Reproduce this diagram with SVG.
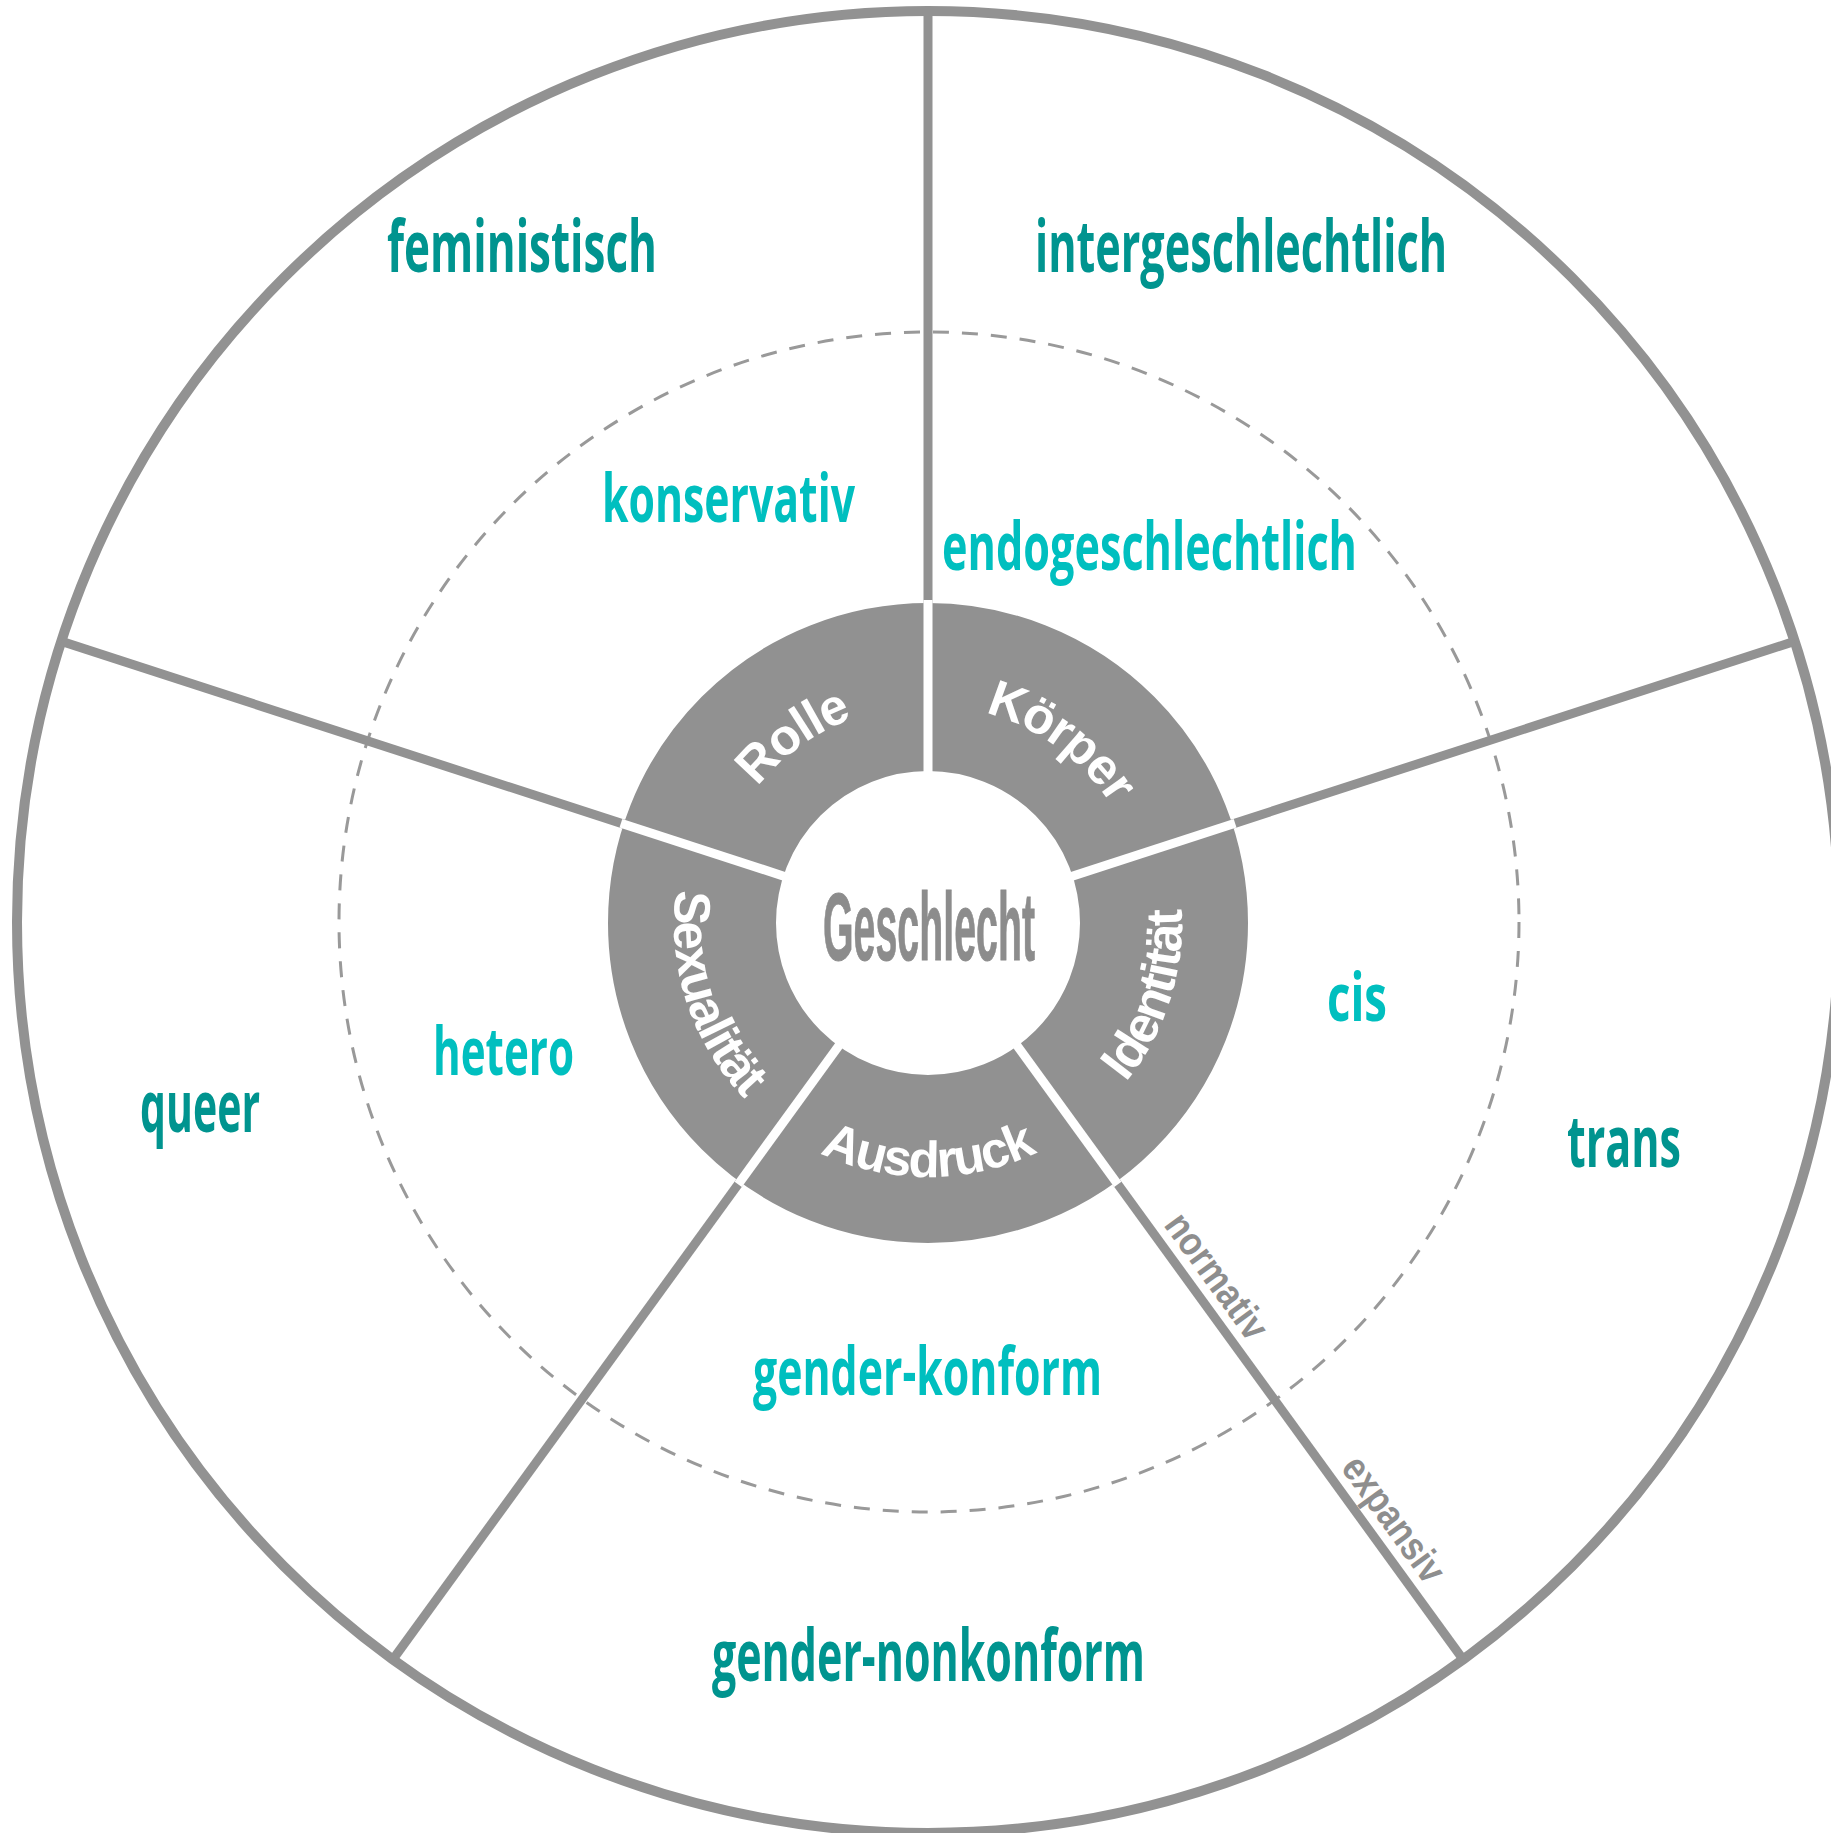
<svg xmlns="http://www.w3.org/2000/svg" width="1831" height="1833" viewBox="0 0 1831 1833">
<style>
.ln{stroke:#929292;stroke-width:9;fill:none}
.gap{stroke:#ffffff;stroke-width:9;fill:none}
.outer{font-family:"Open Sans","Liberation Sans",sans-serif;font-weight:700;fill:#00948f;font-size:72px}
.inner{font-family:"Open Sans","Liberation Sans",sans-serif;font-weight:700;fill:#00bfbf;font-size:66px}
.ring{font-family:"Liberation Sans",Arial,sans-serif;font-weight:bold;fill:#ffffff;font-size:51px;letter-spacing:-1.5px}
.side{font-family:"Liberation Sans",Arial,sans-serif;font-weight:bold;fill:#8e8e8e;font-size:40px}
</style>
<defs>
<path id="pRolle" d="M 710 923 A 218 218 0 0 1 995.4 715.7"/>
<path id="pKoerper" d="M 860.6 715.7 A 218 218 0 0 1 1146 923"/>
<path id="pIdent" d="M 1006.5 1164.6 A 254 254 0 0 0 1133.5 773.7"/>
<path id="pAus" d="M 722.5 1072.3 A 254 254 0 0 0 1133.5 1072.3"/>
<path id="pSex" d="M 722.5 773.7 A 254 254 0 0 0 849.5 1164.6"/>
</defs>
<rect width="1831" height="1833" fill="#ffffff"/>
<g id="outer-circle"><circle cx="928" cy="922" r="911" fill="none" stroke="#929292" stroke-width="10"/></g>
<g id="dashed-circle"><circle cx="929" cy="922" r="590" fill="none" stroke="#999999" stroke-width="3" stroke-dasharray="16 13"/></g>
<g id="connectors">
<line class="ln" x1="928" y1="604" x2="928" y2="12"/>
<line class="ln" x1="1232.3" y1="824.1" x2="1794.4" y2="641.4"/>
<line class="ln" x1="1116.1" y1="1181.9" x2="1463.5" y2="1660"/>
<line class="ln" x1="739.9" y1="1181.9" x2="392.5" y2="1660"/>
<line class="ln" x1="623.7" y1="824.1" x2="61.6" y2="641.4"/>
</g>
<g id="ring">
<circle cx="928" cy="923" r="236" fill="none" stroke="#919191" stroke-width="168"/>
<line class="gap" x1="928" y1="775" x2="928" y2="600"/>
<line class="gap" x1="1070.6" y1="876.7" x2="1235.1" y2="823.2"/>
<line class="gap" x1="1016.2" y1="1044.4" x2="1117.8" y2="1184.3"/>
<line class="gap" x1="839.8" y1="1044.4" x2="738.2" y2="1184.3"/>
<line class="gap" x1="785.4" y1="876.7" x2="620.9" y2="823.2"/>
</g>
<g id="node-geschlecht"><text x="929" y="960" text-anchor="middle" font-family="Liberation Sans, Arial, sans-serif" font-weight="bold" font-size="96" fill="#8c8c8c" stroke="#8c8c8c" stroke-width="1" textLength="212" lengthAdjust="spacingAndGlyphs">Geschlecht</text></g>
<g id="node-rolle"><text class="ring"><textPath href="#pRolle" startOffset="50%" text-anchor="middle">Rolle</textPath></text></g>
<g id="node-koerper"><text class="ring"><textPath href="#pKoerper" startOffset="50%" text-anchor="middle">Körper</textPath></text></g>
<g id="node-identitaet"><text class="ring"><textPath href="#pIdent" startOffset="50%" text-anchor="middle">Identität</textPath></text></g>
<g id="node-ausdruck"><text class="ring"><textPath href="#pAus" startOffset="50%" text-anchor="middle">Ausdruck</textPath></text></g>
<g id="node-sexualitaet"><text class="ring"><textPath href="#pSex" startOffset="50%" text-anchor="middle">Sexualität</textPath></text></g>
<g id="node-feministisch"><text class="outer" x="387" y="272" textLength="270" lengthAdjust="spacingAndGlyphs">feministisch</text></g>
<g id="node-intergeschlechtlich"><text class="outer" x="1035" y="272" textLength="412" lengthAdjust="spacingAndGlyphs">intergeschlechtlich</text></g>
<g id="node-konservativ"><text class="inner" x="602" y="522" font-size="64" textLength="253" lengthAdjust="spacingAndGlyphs">konservativ</text></g>
<g id="node-endogeschlechtlich"><text class="inner" x="942" y="570" textLength="415" lengthAdjust="spacingAndGlyphs">endogeschlechtlich</text></g>
<g id="node-queer"><text class="outer" x="140" y="1132" textLength="120" lengthAdjust="spacingAndGlyphs">queer</text></g>
<g id="node-hetero"><text class="inner" x="433" y="1075" textLength="141" lengthAdjust="spacingAndGlyphs">hetero</text></g>
<g id="node-cis"><text class="inner" x="1327" y="1021" textLength="60" lengthAdjust="spacingAndGlyphs">cis</text></g>
<g id="node-trans"><text class="outer" x="1567" y="1167" textLength="114" lengthAdjust="spacingAndGlyphs">trans</text></g>
<g id="node-gender-konform"><text class="inner" x="753" y="1395" textLength="349" lengthAdjust="spacingAndGlyphs">gender-konform</text></g>
<g id="node-gender-nonkonform"><text class="outer" x="712" y="1681" textLength="433" lengthAdjust="spacingAndGlyphs">gender-nonkonform</text></g>
<g id="label-normativ"><text class="side" transform="translate(1206,1284) rotate(54)" text-anchor="middle" textLength="146" lengthAdjust="spacingAndGlyphs">normativ</text></g>
<g id="label-expansiv"><text class="side" transform="translate(1383,1527) rotate(54)" text-anchor="middle" textLength="146" lengthAdjust="spacingAndGlyphs">expansiv</text></g>
</svg>
